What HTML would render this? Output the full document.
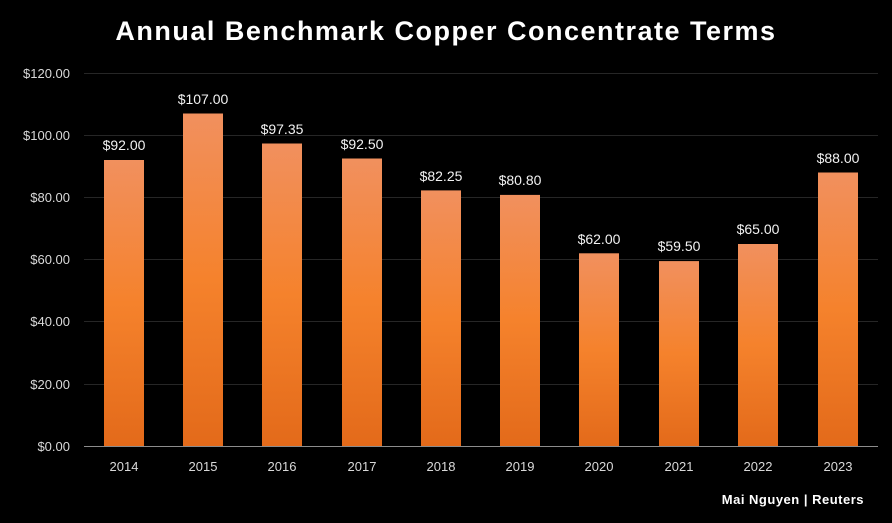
<!DOCTYPE html>
<html><head><style>
html,body{margin:0;padding:0;background:#000;}
svg{display:block;}
text{font-family:"Liberation Sans",sans-serif;}
</style></head><body>
<svg width="892" height="523" viewBox="0 0 892 523" xmlns="http://www.w3.org/2000/svg">
<defs>
<linearGradient id="g" x1="0" y1="0" x2="0" y2="1">
<stop offset="0" stop-color="#f1905e"/>
<stop offset="0.5" stop-color="#f5822c"/>
<stop offset="1" stop-color="#e36a1a"/>
</linearGradient>
</defs>
<rect width="892" height="523" fill="#000"/>
<text x="446" y="40" text-anchor="middle" fill="#fff" font-size="27" font-weight="bold" letter-spacing="1.5">Annual Benchmark Copper Concentrate Terms</text>
<g stroke="#262626" stroke-width="1">
<line x1="84" x2="878" y1="73.5" y2="73.5"/>
<line x1="84" x2="878" y1="135.5" y2="135.5"/>
<line x1="84" x2="878" y1="197.5" y2="197.5"/>
<line x1="84" x2="878" y1="259.5" y2="259.5"/>
<line x1="84" x2="878" y1="321.5" y2="321.5"/>
<line x1="84" x2="878" y1="384.5" y2="384.5"/>
</g>
<g fill="#d9d9d9" font-size="13" text-anchor="end">
<text x="70" y="78">$120.00</text>
<text x="70" y="140">$100.00</text>
<text x="70" y="202">$80.00</text>
<text x="70" y="264">$60.00</text>
<text x="70" y="326">$40.00</text>
<text x="70" y="389">$20.00</text>
<text x="70" y="451">$0.00</text>
</g>
<g fill="url(#g)">
<rect x="104" y="160" width="40" height="286"/>
<rect x="183" y="113.5" width="40" height="332.5"/>
<rect x="262" y="143.5" width="40" height="302.5"/>
<rect x="342" y="158.5" width="40" height="287.5"/>
<rect x="421" y="190.4" width="40" height="255.6"/>
<rect x="500" y="194.9" width="40" height="251.1"/>
<rect x="579" y="253.3" width="40" height="192.7"/>
<rect x="659" y="261.1" width="40" height="184.9"/>
<rect x="738" y="244" width="40" height="202"/>
<rect x="818" y="172.5" width="40" height="273.5"/>
</g>
<line x1="84" x2="878" y1="446.5" y2="446.5" stroke="#8c8c8c" stroke-width="1"/>
<g fill="#f2f2f2" font-size="14" text-anchor="middle">
<text x="124" y="150">$92.00</text>
<text x="203" y="104">$107.00</text>
<text x="282" y="134">$97.35</text>
<text x="362" y="149">$92.50</text>
<text x="441" y="181">$82.25</text>
<text x="520" y="185">$80.80</text>
<text x="599" y="244">$62.00</text>
<text x="679" y="251">$59.50</text>
<text x="758" y="234">$65.00</text>
<text x="838" y="163">$88.00</text>
</g>
<g fill="#d9d9d9" font-size="13" text-anchor="middle">
<text x="124" y="471">2014</text>
<text x="203" y="471">2015</text>
<text x="282" y="471">2016</text>
<text x="362" y="471">2017</text>
<text x="441" y="471">2018</text>
<text x="520" y="471">2019</text>
<text x="599" y="471">2020</text>
<text x="679" y="471">2021</text>
<text x="758" y="471">2022</text>
<text x="838" y="471">2023</text>
</g>
<text x="864" y="504" text-anchor="end" fill="#fff" font-size="13" font-weight="bold" letter-spacing="0.5">Mai Nguyen | Reuters</text>
</svg>
</body></html>
